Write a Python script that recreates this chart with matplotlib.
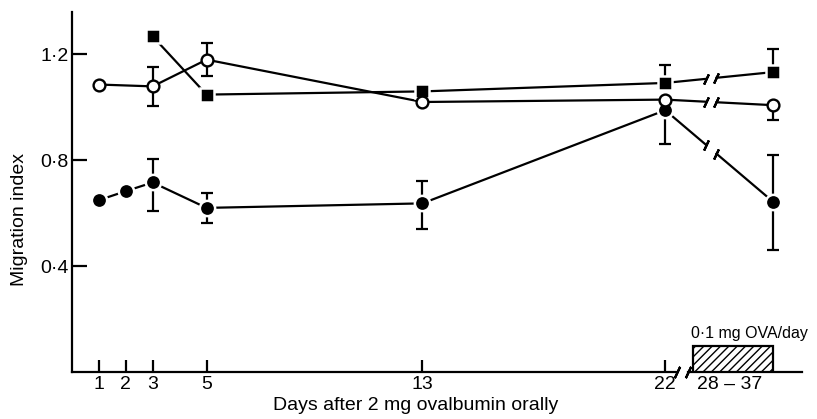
import numpy as np
import matplotlib
matplotlib.use("Agg")
import matplotlib.pyplot as plt

plt.rcParams['font.family'] = ['Liberation Sans', 'DejaVu Sans']

# ---- data ----
days = [1, 2, 3, 5, 13, 22, 26]          # 26 = plotting slot for "28-37"
xtick_days = [1, 2, 3, 5, 13, 22]
xtick_labels = ['1', '2', '3', '5', '13', '22']
period_label = '28 – 37'
period_pos = 24.4
ytick_vals = [0.4, 0.8, 1.2]
ytick_labels = ['0·4', '0·8', '1·2']

filled_x = [1, 2, 3, 5, 13, 22, 26]
filled_y = [0.649, 0.683, 0.716, 0.620, 0.637, 0.989, 0.643]
filled_err_lo = [0, 0, 0.108, 0.057, 0.095, 0.129, 0.183]
filled_err_hi = [0, 0, 0.087, 0.057, 0.085, 0.0, 0.176]

open_x = [1, 3, 5, 13, 22, 26]
open_y = [1.086, 1.079, 1.180, 1.020, 1.029, 1.008]
open_err_lo = [0, 0.073, 0.063, 0, 0, 0.057]
open_err_hi = [0, 0.073, 0.064, 0, 0, 0.0]

sq_x = [3, 5, 13, 22, 26]
sq_y = [1.268, 1.048, 1.060, 1.092, 1.133]
sq_err_lo = [0, 0, 0, 0.0, 0.0]
sq_err_hi = [0, 0, 0, 0.066, 0.089]

treat_start, treat_end, treat_height = 23.02, 26.0, 0.098
treat_label = '0·1 mg OVA/day'
gap_lo, gap_hi = 23.5, 23.9          # break in the data lines
axis_break = (22.42, 22.85)          # break in the x axis
xmax, ymax = 27.07, 1.36

fig = plt.figure(figsize=(8.17, 4.19), dpi=100)
ax = fig.add_axes([71.7/817, (419-372)/419, (802-71.7)/817, (372-12)/419])
ax.set_xlim(0, xmax)
ax.set_ylim(0, ymax)

lw = 1.6
slash = (2, 2, -25)
fs = 14


def draw_series(x, y, elo, ehi, marker, ms, mfc, mec, mew):
    x = np.asarray(x, float); y = np.asarray(y, float)
    for xi, yi, lo, hi in zip(x, y, elo, ehi):
        if lo > 0 or hi > 0:
            ax.errorbar([xi], [yi], yerr=[[lo], [hi]], fmt='none', ecolor='black',
                        elinewidth=lw, capsize=4.6, capthick=lw, zorder=2)
    pre = x <= 22
    ax.plot(x[pre], y[pre], '-', color='black', lw=lw, zorder=3)
    y_lo = np.interp(gap_lo, x[-2:], y[-2:])
    y_hi = np.interp(gap_hi, x[-2:], y[-2:])
    ax.plot([x[-2], gap_lo], [y[-2], y_lo], '-', color='black', lw=lw, zorder=3)
    ax.plot([gap_hi, x[-1]], [y_hi, y[-1]], '-', color='black', lw=lw, zorder=3)
    ax.plot([gap_lo, gap_hi], [y_lo, y_hi], linestyle='none', marker=slash,
            ms=8, mew=lw, color='black', zorder=3)
    ax.plot(x, y, linestyle='none', marker=marker, ms=ms, mfc=mfc, mec=mec,
            mew=mew, zorder=4)


draw_series(filled_x, filled_y, filled_err_lo, filled_err_hi, 'o', 11, 'black', 'white', 1.8)
draw_series(sq_x, sq_y, sq_err_lo, sq_err_hi, 's', 10, 'black', 'white', 1.8)
draw_series(open_x, open_y, open_err_lo, open_err_hi, 'o', 8.5, 'white', 'black', 1.7)

# treatment box
ax.add_patch(plt.Rectangle((treat_start, 0), treat_end - treat_start, treat_height,
                           facecolor='white', edgecolor='black', hatch='////',
                           lw=lw, zorder=2))
ax.text((treat_start + treat_end) / 2 + 0.6, treat_height + 0.02, treat_label,
        ha='center', va='bottom', fontsize=11.5)

# axes styling
for s in ['top', 'right', 'bottom']:
    ax.spines[s].set_visible(False)
ax.spines['left'].set_linewidth(lw)
ax.plot([0, axis_break[0]], [0, 0], color='black', lw=lw, clip_on=False, zorder=1)
ax.plot([axis_break[1], xmax], [0, 0], color='black', lw=lw, clip_on=False, zorder=1)
ax.plot(list(axis_break), [0, 0], linestyle='none', marker=slash, ms=9, mew=lw,
        color='black', clip_on=False)

ax.set_yticks(ytick_vals)
ax.set_yticklabels(ytick_labels, fontsize=fs)
ax.tick_params(axis='y', direction='in', length=11, width=lw, pad=2)
ax.set_xticks(xtick_days)
ax.set_xticklabels(xtick_labels, fontsize=fs)
ax.tick_params(axis='x', direction='in', length=9, width=lw, pad=3)
ax.set_xticks([period_pos], minor=True)
ax.set_xticklabels([period_label], minor=True, fontsize=fs)
ax.tick_params(axis='x', which='minor', length=0, pad=3)

fig.text(416/817, 1 - 405/419, 'Days after 2 mg ovalbumin orally', ha='center',
         va='center', fontsize=fs)
fig.text(20/817, 1 - 220/419, 'Migration index', ha='center', va='center',
         rotation=90, fontsize=fs)

fig.savefig('out.png', dpi=100)
